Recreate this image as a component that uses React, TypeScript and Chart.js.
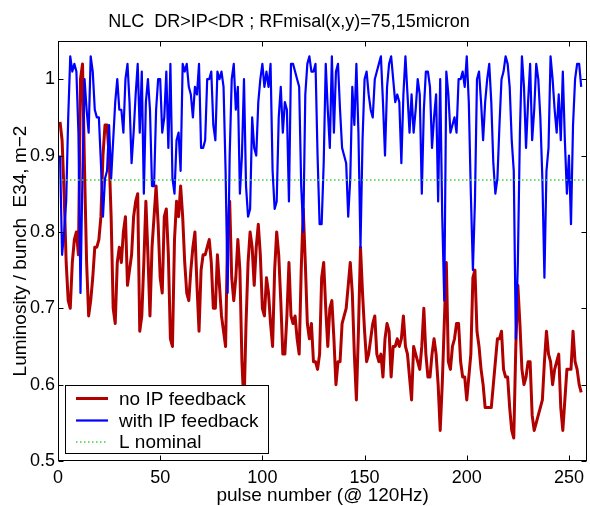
import React, { useEffect, useRef } from "react";
import { Chart, registerables } from "chart.js";

Chart.register(...registerables);

const TITLE = "NLC  DR>IP<DR ; RFmisal(x,y)=75,15micron";
const X_LABEL = "pulse number (@ 120Hz)";
const Y_LABEL = "Luminosity / bunch  E34, m\u22122";
const SERIES_NAMES = ["no IP feedback", "with IP feedback", "L nominal"];
const X_TICKS = [0, 50, 100, 150, 200, 250];
const Y_TICKS = [0.5, 0.6, 0.7, 0.8, 0.9, 1];
const X_MIN = 0;
const X_MAX = 259;
const Y_MIN = 0.5;
const Y_MAX = 1.05;
const L_NOMINAL = 0.868;

const noFeedback = [
  0.944, 0.92, 0.85, 0.76, 0.71, 0.70, 0.76, 0.79, 0.80, 0.77,
  1.00, 1.02, 0.88, 0.76, 0.69, 0.71, 0.74, 0.78, 0.78, 0.79,
  0.82, 0.90, 0.94, 0.94, 0.90, 0.82, 0.70, 0.68, 0.76, 0.78,
  0.76, 0.80, 0.82, 0.73, 0.75, 0.77, 0.82, 0.84, 0.85, 0.67,
  0.69, 0.76, 0.84, 0.77, 0.69, 0.78, 0.82, 0.86, 0.81, 0.74,
  0.72, 0.82, 0.83, 0.77, 0.66, 0.65, 0.79, 0.84, 0.82, 0.86,
  0.82, 0.76, 0.72, 0.71, 0.75, 0.78, 0.80, 0.73, 0.67, 0.75,
  0.77, 0.77, 0.78, 0.79, 0.76, 0.70, 0.70, 0.77, 0.73, 0.69,
  0.67, 0.65, 0.80, 0.84, 0.74, 0.71, 0.74, 0.79, 0.75, 0.63,
  0.57, 0.68, 0.76, 0.80, 0.78, 0.73, 0.78, 0.81, 0.77, 0.70,
  0.69, 0.74, 0.72, 0.68, 0.65, 0.75, 0.80, 0.77, 0.71, 0.64,
  0.64, 0.69, 0.76, 0.69, 0.68, 0.69, 0.66, 0.64, 0.75, 0.83,
  0.76, 0.68, 0.66, 0.68, 0.63, 0.63, 0.62, 0.64, 0.74, 0.76,
  0.70, 0.65, 0.70, 0.71, 0.66, 0.60, 0.63, 0.63, 0.68, 0.69,
  0.70, 0.73, 0.76, 0.72, 0.64, 0.58, 0.67, 0.78, 0.72, 0.67,
  0.63, 0.64, 0.66, 0.68, 0.69, 0.64, 0.63, 0.64, 0.61, 0.66,
  0.68, 0.67, 0.61, 0.65, 0.65, 0.66, 0.65, 0.66, 0.69, 0.65,
  0.64, 0.61, 0.58, 0.65, 0.64, 0.63, 0.62, 0.65, 0.70, 0.64,
  0.61, 0.61, 0.64, 0.66, 0.64, 0.60, 0.54, 0.60, 0.68, 0.76,
  0.63, 0.62, 0.65, 0.66, 0.68, 0.68, 0.63, 0.61, 0.61, 0.58,
  0.61, 0.64, 0.74, 0.75, 0.67, 0.65, 0.62, 0.60, 0.57, 0.57,
  0.57, 0.57, 0.60, 0.63, 0.66, 0.66, 0.67, 0.62, 0.61, 0.61,
  0.57, 0.54, 0.53, 0.65, 0.73, 0.68, 0.62, 0.60, 0.61, 0.63,
  0.63, 0.56, 0.54, 0.55, 0.56, 0.57, 0.58, 0.63, 0.67, 0.64,
  0.63, 0.60, 0.62, 0.63, 0.64, 0.57, 0.54, 0.58, 0.62, 0.62,
  0.62, 0.67, 0.63, 0.62, 0.60, 0.59,
];

const withFeedback = [
  0.90, 0.77, 0.80, 0.84, 0.95, 1.03, 1.01, 1.02, 1.01, 0.93,
  0.72, 0.88, 1.00, 0.96, 0.93, 1.03, 1.01, 0.96, 0.95, 0.95,
  0.89, 0.82, 0.87, 0.88, 0.94, 0.87, 0.92, 0.97, 1.00, 0.96,
  0.96, 0.93, 1.00, 1.02, 0.97, 0.89, 0.93, 0.98, 1.02, 0.93,
  1.01, 0.85, 0.97, 1.00, 0.96, 0.86, 0.86, 0.96, 1.00, 1.00,
  0.93, 0.95, 1.01, 0.91, 1.02, 0.87, 0.85, 0.92, 0.93, 0.88,
  1.02, 1.01, 1.02, 0.99, 0.98, 0.95, 0.99, 0.98, 1.02, 0.91,
  0.91, 0.92, 1.00, 1.00, 1.01, 0.94, 0.92, 1.01, 1.00, 1.01,
  0.99, 0.88, 0.72, 0.90, 1.00, 1.02, 0.96, 0.99, 0.85, 0.90,
  1.00, 0.86, 0.82, 0.83, 0.95, 0.91, 0.90, 0.97, 1.00, 1.02,
  0.99, 1.01, 0.99, 1.02, 0.88, 0.83, 0.84, 0.95, 0.99, 0.93,
  0.97, 0.96, 0.84, 1.02, 1.02, 1.01, 1.00, 0.99, 0.86, 0.80,
  0.98, 1.02, 1.03, 1.01, 1.01, 1.02, 0.90, 0.81, 0.81, 0.89,
  1.02, 0.96, 0.91, 1.03, 0.93, 1.01, 1.02, 0.96, 0.91, 0.90,
  0.89, 0.82, 0.87, 0.99, 0.94, 1.02, 0.93, 0.78, 0.92, 1.00,
  1.01, 0.98, 0.96, 0.95, 1.00, 1.01, 1.02, 1.03, 0.97, 0.90,
  0.99, 1.02, 1.03, 1.00, 0.97, 0.98, 0.97, 0.89, 0.98, 1.03,
  0.98, 0.93, 0.98, 0.93, 0.96, 1.00, 0.98, 0.85, 0.96, 1.01,
  1.01, 0.99, 0.91, 0.95, 0.98, 0.84, 1.00, 0.82, 0.71, 1.01,
  0.98, 0.93, 0.94, 0.95, 0.93, 1.00, 1.00, 1.01, 0.99, 1.03,
  0.97, 0.85, 0.75, 0.84, 1.00, 1.01, 0.97, 0.92, 0.97, 1.00,
  1.02, 0.97, 0.89, 0.85, 0.87, 0.94, 1.00, 1.01, 1.03, 1.02,
  0.99, 0.92, 0.88, 0.66, 0.76, 0.93, 1.03, 0.99, 0.91, 0.97,
  1.02, 0.92, 0.96, 1.02, 1.00, 0.95, 0.87, 0.74, 0.88, 0.91,
  1.03, 1.00, 0.96, 0.93, 0.98, 0.92, 1.01, 0.92, 0.85, 0.90,
  0.81, 0.94, 1.00, 1.02, 1.02, 0.99,
];

const pulses = noFeedback.map((_, i) => i + 1);

const FONT = "'Liberation Sans', Arial, Helvetica, sans-serif";
const RED = "#b00000";
const BLUE = "#0000ff";
const GREEN = "#3fd03f";

const decorPlugin = {
  id: "decor",
  afterDatasetsDraw(chart: any) {
    const { ctx, chartArea: a, scales } = chart;
    const xs = scales.x;
    const ys = scales.y;
    ctx.save();
    const L = Math.round(a.left) + 0.5;
    const R = Math.round(a.right) - 0.5;
    const T = Math.round(a.top) + 0.5;
    const B = Math.round(a.bottom) - 0.5;
    const line = (x1: number, y1: number, x2: number, y2: number) => {
      ctx.beginPath();
      ctx.moveTo(x1, y1);
      ctx.lineTo(x2, y2);
      ctx.stroke();
    };
    ctx.strokeStyle = "#000";
    ctx.lineWidth = 1;
    ctx.setLineDash([]);

    // legend
    const lx = 65.5, ly = 385.5, lw = 203, lh = 68;
    ctx.fillStyle = "#fff";
    ctx.fillRect(lx, ly, lw, lh);
    ctx.strokeRect(lx, ly, lw, lh);
    const rows = [398.5, 420.5, 442];
    const styles = [
      { c: RED, w: 3, d: [] as number[] },
      { c: BLUE, w: 2.2, d: [] as number[] },
      { c: GREEN, w: 1.5, d: [1.5, 2.5] },
    ];
    ctx.font = `19px ${FONT}`;
    ctx.textBaseline = "middle";
    ctx.textAlign = "left";
    SERIES_NAMES.forEach((name, i) => {
      ctx.strokeStyle = styles[i].c;
      ctx.lineWidth = styles[i].w;
      ctx.setLineDash(styles[i].d);
      line(76, rows[i], 108, rows[i]);
      ctx.setLineDash([]);
      ctx.fillStyle = "#000";
      ctx.fillText(name, 119, rows[i] + 1);
    });

    // box and inward ticks
    ctx.strokeStyle = "#000";
    ctx.lineWidth = 1;
    ctx.strokeRect(L, T, R - L, B - T);
    X_TICKS.forEach((v) => {
      const px = Math.round(xs.getPixelForValue(v)) + 0.5;
      line(px, B, px, B - 5);
      line(px, T, px, T + 5);
    });
    Y_TICKS.forEach((v) => {
      const py = Math.round(ys.getPixelForValue(v)) + 0.5;
      line(L, py, L + 5, py);
      line(R, py, R - 5, py);
    });

    // titles
    ctx.fillStyle = "#000";
    ctx.textAlign = "center";
    ctx.textBaseline = "alphabetic";
    ctx.font = `18px ${FONT}`;
    ctx.fillText(TITLE, 289, 27);
    ctx.font = `19px ${FONT}`;
    ctx.fillText(X_LABEL, (a.left + a.right) / 2, 501);
    ctx.save();
    ctx.translate(26, (a.top + a.bottom) / 2);
    ctx.rotate(-Math.PI / 2);
    ctx.fillText(Y_LABEL, 0, 0);
    ctx.restore();
    ctx.restore();
  },
};

export default function App() {
  const ref = useRef<HTMLCanvasElement | null>(null);
  useEffect(() => {
    document.body.style.margin = "0";
    const canvas = ref.current;
    if (!canvas) return;
    const chart = new Chart(canvas, {
      type: "line",
      data: {
        datasets: [
          {
            label: SERIES_NAMES[0],
            data: pulses.map((p, i) => ({ x: p, y: noFeedback[i] })),
            borderColor: RED,
            borderWidth: 3,
            pointRadius: 0,
            tension: 0,
            borderJoinStyle: "round",
            order: 2,
          },
          {
            label: SERIES_NAMES[1],
            data: pulses.map((p, i) => ({ x: p, y: withFeedback[i] })),
            borderColor: BLUE,
            borderWidth: 2.2,
            pointRadius: 0,
            tension: 0,
            borderJoinStyle: "round",
            order: 1,
          },
          {
            label: SERIES_NAMES[2],
            data: [
              { x: X_MIN, y: L_NOMINAL },
              { x: X_MAX, y: L_NOMINAL },
            ],
            borderColor: GREEN,
            borderWidth: 1.5,
            borderDash: [1.5, 2.5],
            pointRadius: 0,
            order: 0,
          },
        ],
      } as any,
      options: {
        animation: false,
        responsive: false,
        events: [],
        layout: { padding: { top: 41, right: 1, left: 0, bottom: 0 } },
        plugins: {
          legend: { display: false },
          title: { display: false },
          tooltip: { enabled: false },
        },
        scales: {
          x: {
            type: "linear",
            min: X_MIN,
            max: X_MAX,
            afterBuildTicks: (axis: any) => {
              axis.ticks = X_TICKS.map((v) => ({ value: v }));
            },
            afterFit: (s: any) => {
              s.height = 45;
            },
            grid: { display: false, drawTicks: false },
            border: { display: false },
            ticks: {
              color: "#000",
              font: { family: FONT, size: 18 },
              padding: 6,
              maxRotation: 0,
              autoSkip: false,
              callback: (v: any) => String(v),
            },
          },
          y: {
            type: "linear",
            min: Y_MIN,
            max: Y_MAX,
            afterBuildTicks: (axis: any) => {
              axis.ticks = Y_TICKS.map((v) => ({ value: v }));
            },
            afterFit: (s: any) => {
              s.width = 58;
            },
            grid: { display: false, drawTicks: false },
            border: { display: false },
            ticks: {
              color: "#000",
              font: { family: FONT, size: 18 },
              padding: 3,
              autoSkip: false,
              callback: (v: any) => (Number(v) === 1 ? "1" : Number(v).toFixed(1)),
            },
          },
        },
      },
      plugins: [decorPlugin],
    });
    return () => chart.destroy();
  }, []);
  return (
    <canvas
      ref={ref}
      width={590}
      height={506}
      style={{ display: "block", width: 590, height: 506 }}
    />
  );
}
